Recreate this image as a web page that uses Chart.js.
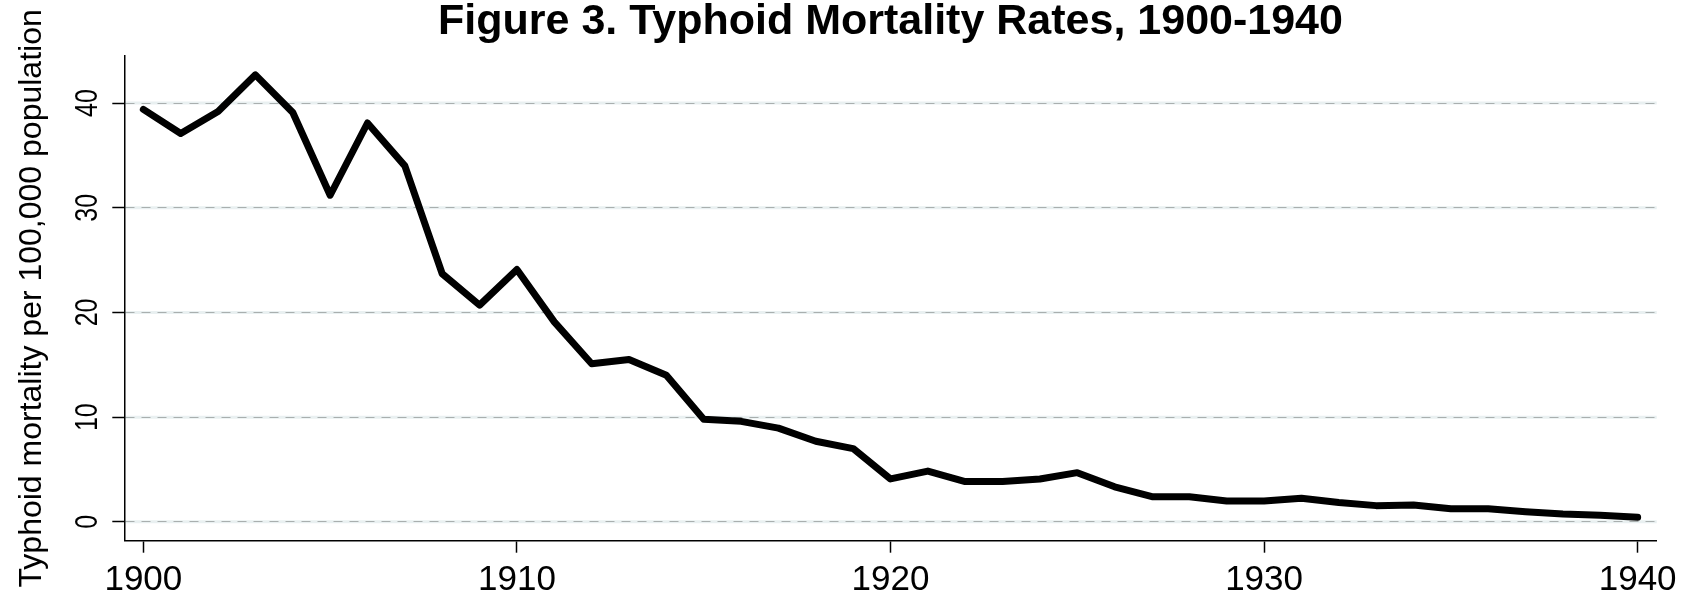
<!DOCTYPE html>
<html>
<head>
<meta charset="utf-8">
<script src="https://cdn.jsdelivr.net/npm/chart.js@4.4.1/dist/chart.umd.min.js"></script>
<style>
  html, body { margin: 0; padding: 0; background: #fff; }
  canvas { display: block; }
</style>
</head>
<body>
<canvas id="chart" width="1694" height="604"></canvas>
<script>
// data
const years = [1900, 1901, 1902, 1903, 1904, 1905, 1906, 1907, 1908, 1909,
               1910, 1911, 1912, 1913, 1914, 1915, 1916, 1917, 1918, 1919,
               1920, 1921, 1922, 1923, 1924, 1925, 1926, 1927, 1928, 1929,
               1930, 1931, 1932, 1933, 1934, 1935, 1936, 1937, 1938, 1939, 1940];
const rates = [39.4, 37.1, 39.2, 42.7, 39.1, 31.2, 38.1, 34.0, 23.7, 20.7,
               24.1, 19.1, 15.1, 15.5, 14.0, 9.8, 9.6, 8.95, 7.7, 7.0,
               4.1, 4.85, 3.85, 3.85, 4.1, 4.7, 3.35, 2.4, 2.4, 2.0,
               2.0, 2.25, 1.85, 1.55, 1.6, 1.25, 1.25, 0.97, 0.75, 0.62, 0.43];
const xTicks = [1900, 1910, 1920, 1930, 1940];
const yTicks = [0, 10, 20, 30, 40];

const chartTitle = "Figure 3. Typhoid Mortality Rates, 1900-1940";
const yTitle = "Typhoid mortality per 100,000 population";

// light band under the dashed grid lines
const gridBand = {
  id: "gridBand",
  beforeDraw(chart) {
    const { ctx, chartArea, scales } = chart;
    ctx.save();
    ctx.strokeStyle = "#e9f0f1";
    ctx.lineWidth = 3;
    scales.y.ticks.forEach(t => {
      const py = scales.y.getPixelForValue(t.value);
      ctx.beginPath();
      ctx.moveTo(chartArea.left, py);
      ctx.lineTo(chartArea.right, py);
      ctx.stroke();
    });
    ctx.restore();
  }
};

// vertical (narrow) y tick labels
const yLabels = {
  id: "yLabels",
  afterDraw(chart) {
    const { ctx, scales } = chart;
    ctx.save();
    ctx.fillStyle = "#000";
    ctx.font = "32px 'Liberation Sans', Arial, sans-serif";
    ctx.textAlign = "center";
    ctx.textBaseline = "alphabetic";
    scales.y.ticks.forEach(t => {
      const py = scales.y.getPixelForValue(t.value);
      ctx.save();
      ctx.translate(97, py);
      ctx.rotate(-Math.PI / 2);
      ctx.scale(0.78, 1);
      ctx.fillText(String(t.value), 0, 0);
      ctx.restore();
    });
    ctx.restore();
  }
};

new Chart(document.getElementById("chart"), {
  type: "line",
  data: {
    datasets: [{
      data: years.map((y, i) => ({ x: y, y: rates[i] })),
      borderColor: "#000",
      borderWidth: 7,
      borderJoinStyle: "round",
      borderCapStyle: "round",
      pointRadius: 0,
      tension: 0,
      fill: false
    }]
  },
  options: {
    responsive: false,
    animation: false,
    devicePixelRatio: 1,
    layout: { padding: { left: 0, right: 37.3, top: 0, bottom: 0 } },
    plugins: {
      legend: { display: false },
      tooltip: { enabled: false },
      title: {
        display: true,
        text: chartTitle,
        fullSize: false,
        color: "#000",
        font: { family: "'Liberation Sans', Arial, sans-serif", size: 43, weight: "bold", lineHeight: 1 },
        padding: { top: 0.9, bottom: 12.1 }
      }
    },
    scales: {
      x: {
        type: "linear",
        min: 1899.49,
        max: 1940.51,
        afterBuildTicks: s => { s.ticks = xTicks.map(v => ({ value: v })); },
        afterFit: s => { s.height = 63.3; },
        ticks: {
          color: "#000",
          padding: 7,
          maxRotation: 0,
          font: { family: "'Liberation Sans', Arial, sans-serif", size: 35 },
          callback: v => String(v)
        },
        grid: { drawOnChartArea: false, tickLength: 12, tickColor: "#000", tickWidth: 1.5 },
        border: { color: "#000", width: 1.5 }
      },
      y: {
        type: "linear",
        min: -1.8,
        max: 44.5,
        afterBuildTicks: s => { s.ticks = yTicks.map(v => ({ value: v })); },
        afterFit: s => { s.width = 124.3; },
        ticks: { display: false },
        grid: { color: "#a9afaf", lineWidth: 1, tickLength: 12, tickColor: "#000", tickWidth: 1.5 },
        border: { color: "#000", width: 1.5, dash: [9, 7] },
        title: {
          display: true,
          text: yTitle,
          color: "#000",
          font: { family: "'Liberation Sans', Arial, sans-serif", size: 32, lineHeight: 1.2 },
          padding: { top: 13, bottom: 0 }
        }
      }
    }
  },
  plugins: [gridBand, yLabels]
});
</script>
</body>
</html>
